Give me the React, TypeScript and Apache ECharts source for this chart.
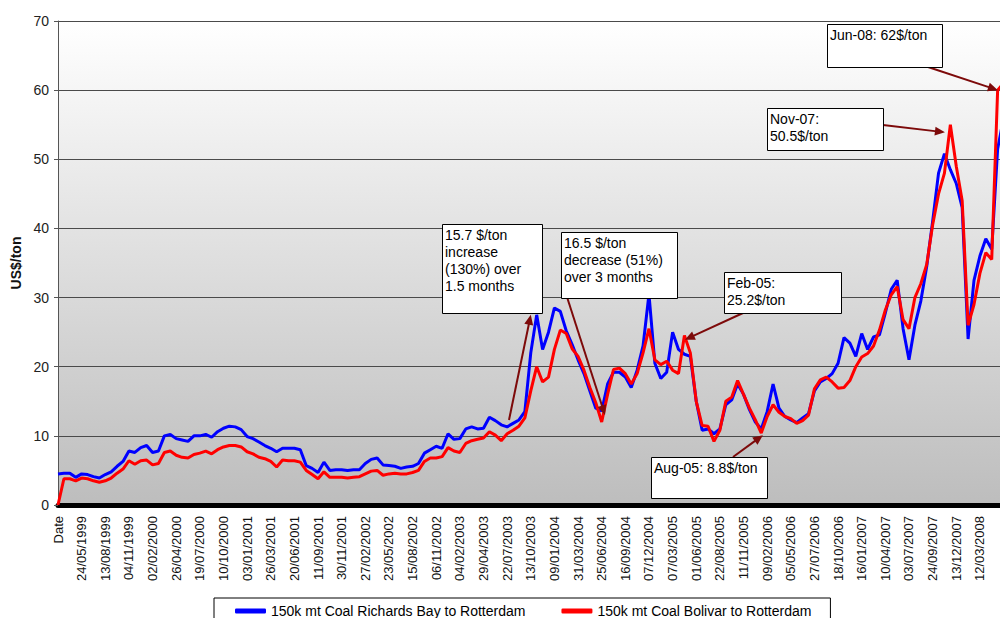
import React, { useEffect, useRef } from "react";
import * as echarts from "echarts";

const FONT = '"Liberation Sans", Arial, Helvetica, sans-serif';

// Category labels shown along the date axis (one every 60 trading days)
const tickLabels = [
  "Date", "24/05/1999", "13/08/1999", "04/11/1999", "02/02/2000", "26/04/2000",
  "19/07/2000", "10/10/2000", "03/01/2001", "26/03/2001", "20/06/2001",
  "11/09/2001", "30/11/2001", "27/02/2002", "23/05/2002", "15/08/2002",
  "06/11/2002", "04/02/2003", "29/04/2003", "22/07/2003", "13/10/2003",
  "09/01/2004", "31/03/2004", "25/06/2004", "16/09/2004", "07/12/2004",
  "07/03/2005", "01/06/2005", "22/08/2005", "11/11/2005", "09/02/2006",
  "05/05/2006", "27/07/2006", "18/10/2006", "16/01/2007", "10/04/2007",
  "03/07/2007", "24/09/2007", "13/12/2007", "12/03/2008",
];

// Freight samples per label step
const POINTS_PER_TICK = 4;
const X_MAX = 39.85;

// 150k mt Coal Richards Bay to Rotterdam, US$/ton
const richardsBayRotterdam = [
  4.5, 4.6, 4.6, 4.0, 4.5, 4.4, 4.1, 3.9, 4.4, 4.8,
  5.6, 6.3, 7.8, 7.6, 8.3, 8.6, 7.6, 7.8, 10.0, 10.2,
  9.6, 9.4, 9.2, 10.0, 10.0, 10.2, 9.8, 10.6, 11.1, 11.4,
  11.3, 10.9, 9.9, 9.6, 9.1, 8.6, 8.2, 7.7, 8.2, 8.2,
  8.2, 8.0, 5.7, 5.3, 4.7, 6.2, 5.0, 5.1, 5.1, 5.0,
  5.1, 5.1, 6.0, 6.6, 6.8, 5.8, 5.7, 5.6, 5.3, 5.5,
  5.6, 6.0, 7.5, 8.0, 8.5, 8.2, 10.3, 9.5, 9.6, 11.0,
  11.3, 11.0, 11.1, 12.7, 12.2, 11.6, 11.3, 11.8, 12.3, 13.5,
  22.0, 27.5, 22.5, 25.0, 28.5, 28.0, 25.2, 23.2, 21.0, 19.0,
  16.5, 14.0, 13.6, 17.5, 19.2, 19.2, 18.5, 17.0, 19.5, 23.0,
  30.5, 20.5, 18.3, 19.2, 25.0, 22.5, 21.8, 21.5, 15.0, 10.8,
  11.0, 10.3, 11.0, 14.5, 15.2, 17.5, 16.0, 13.8, 12.0, 11.0,
  13.5, 17.5, 14.0, 12.8, 12.3, 11.9, 12.6, 13.2, 16.5, 17.8,
  18.3, 19.0, 20.5, 24.2, 23.4, 21.5, 24.8, 22.5, 24.3, 24.6,
  27.8, 31.2, 32.5, 25.5, 21.0, 26.0, 29.5, 34.5, 41.0, 48.0,
  50.8, 48.5, 46.5, 43.0, 24.0, 32.5, 36.0, 38.5, 37.0, 51.5,
  56.0,
];

// 150k mt Coal Bolivar to Rotterdam, US$/ton
const bolivarRotterdam = [
  0, 3.8, 3.8, 3.5, 3.9, 3.8, 3.5, 3.3, 3.5, 3.9,
  4.6, 5.2, 6.4, 5.9, 6.4, 6.5, 5.8, 6.0, 7.6, 7.8,
  7.2, 6.9, 6.8, 7.3, 7.5, 7.8, 7.4, 8.0, 8.4, 8.6,
  8.6, 8.4, 7.7, 7.4, 6.9, 6.7, 6.3, 5.5, 6.5, 6.4,
  6.4, 6.2, 5.0, 4.4, 3.8, 4.8, 4.0, 4.0, 4.0, 3.9,
  4.0, 4.1, 4.5, 4.9, 5.0, 4.3, 4.5, 4.6, 4.5, 4.5,
  4.7, 5.0, 6.3, 6.8, 6.8, 7.0, 8.3, 7.8, 7.6, 8.9,
  9.3, 9.5, 9.7, 10.6, 10.1, 9.3, 10.3, 10.8, 11.4, 12.6,
  16.5, 20.0, 17.8, 18.5, 22.5, 25.3, 24.8, 22.6, 21.5, 19.5,
  17.0, 14.8, 12.0, 16.0, 19.6, 19.8, 19.0, 17.5, 19.0, 22.0,
  25.5, 21.0, 20.3, 20.8, 19.5, 19.0, 24.5, 22.0, 15.0, 11.5,
  11.4, 9.2, 10.8, 15.0, 15.6, 18.0, 16.0, 14.0, 12.3, 10.4,
  12.8, 14.5, 13.4, 12.8, 12.5, 11.8, 12.2, 13.0, 16.8, 18.1,
  18.5, 17.8, 16.9, 17.0, 18.0, 20.0, 21.4, 21.9, 23.0, 25.3,
  28.2, 30.4, 31.6, 26.8, 25.5, 30.0, 32.0, 34.8, 40.5, 45.0,
  48.0, 55.0, 49.0, 44.0, 26.0, 29.0, 33.5, 36.5, 35.5, 60.0,
  61.0,
];

const seriesNames = [
  "150k mt Coal Richards Bay to Rotterdam",
  "150k mt Coal Bolivar to Rotterdam",
];
const seriesColors = ["#0000ff", "#ff0000"];

// Callout texts
const noteTexts = [
  ["15.7 $/ton", "increase", "(130%) over", "1.5 months"],
  ["16.5 $/ton", "decrease (51%)", "over 3 months"],
  ["Feb-05:", "25.2$/ton"],
  ["Aug-05: 8.8$/ton"],
  ["Nov-07:", "50.5$/ton"],
  ["Jun-08: 62$/ton"],
];

// Callout boxes [x, y, w, h] in pixels, arrow tail in pixels, arrow tip in [axis position, US$/ton]
const noteLayout = [
  { box: [442, 224, 100, 89], tail: [509, 420], tip: [20.0, 27.5] },
  { box: [561, 232, 116, 66], tail: [567, 297], tip: [23.14, 13.0] },
  { box: [724, 272, 117, 41], tail: [743, 313], tip: [26.52, 23.9] },
  { box: [651, 457, 116, 41], tail: [733, 457], tip: [29.82, 10.1] },
  { box: [767, 108, 116, 42], tail: [883, 125], tip: [37.52, 53.9] },
  { box: [827, 24, 115, 43], tail: [928, 67], tip: [39.76, 60.0] },
];

const ARROW_COLOR = "#7d0a0a";

function toPairs(values: number[]) {
  return values.map((v, i) => [i / POINTS_PER_TICK, v]);
}

function arrowElements(from: number[], tip: number[]) {
  const dx = tip[0] - from[0];
  const dy = tip[1] - from[1];
  const len = Math.hypot(dx, dy) || 1;
  const ux = dx / len;
  const uy = dy / len;
  const headLen = 10;
  const headHalf = 4.5;
  const bx = tip[0] - ux * headLen;
  const by = tip[1] - uy * headLen;
  return [
    {
      type: "line",
      z: 100,
      shape: { x1: from[0], y1: from[1], x2: bx + ux * 2, y2: by + uy * 2 },
      style: { stroke: ARROW_COLOR, lineWidth: 2 },
    },
    {
      type: "polygon",
      z: 100,
      shape: {
        points: [
          [tip[0], tip[1]],
          [bx - uy * headHalf, by + ux * headHalf],
          [bx + uy * headHalf, by - ux * headHalf],
        ],
      },
      style: { fill: ARROW_COLOR },
    },
  ];
}

export default function App() {
  const ref = useRef<HTMLDivElement>(null);

  useEffect(() => {
    document.body.style.margin = "0";
    if (!ref.current) return;
    const chart = echarts.init(ref.current, null, { renderer: "svg" });

    chart.setOption({
      animation: false,
      backgroundColor: "#ffffff",
      textStyle: { fontFamily: FONT },
      grid: {
        left: 58,
        right: 0,
        top: 21,
        bottom: 113,
        show: true,
        borderWidth: 0,
        backgroundColor: new echarts.graphic.LinearGradient(0, 0, 0, 1, [
          { offset: 0, color: "#ffffff" },
          { offset: 1, color: "#bdbdbd" },
        ]),
      },
      legend: {
        data: seriesNames,
        left: 214,
        top: 598,
        icon: "roundRect",
        itemWidth: 31,
        itemHeight: 5,
        itemGap: 36,
        padding: [6, 19, 16, 21],
        borderColor: "#000000",
        borderWidth: 1,
        backgroundColor: "#ffffff",
        textStyle: { fontSize: 14, color: "#000000", fontFamily: FONT },
      },
      xAxis: {
        type: "value",
        min: 0,
        max: X_MAX,
        interval: 1,
        offset: 3,
        axisLine: { show: true, lineStyle: { color: "#000000", width: 5 } },
        axisTick: { show: false },
        splitLine: { show: false },
        axisLabel: {
          rotate: 90,
          margin: 8,
          fontSize: 13,
          color: "#111111",
          fontFamily: FONT,
          showMaxLabel: false,
          formatter: (v: number) => {
            const r = Math.round(v);
            return Math.abs(v - r) < 1e-6 && tickLabels[r] ? tickLabels[r] : "";
          },
        },
      },
      yAxis: {
        type: "value",
        min: 0,
        max: 70,
        interval: 10,
        name: "US$/ton",
        nameLocation: "middle",
        nameGap: 32,
        nameTextStyle: { fontWeight: "bold", fontSize: 14, color: "#111111", fontFamily: FONT },
        axisLine: { show: true, lineStyle: { color: "#555555", width: 1 } },
        axisTick: { show: true, length: 4, lineStyle: { color: "#555555" } },
        axisLabel: { fontSize: 14, color: "#222222", margin: 9, fontFamily: FONT },
        splitLine: { show: true, lineStyle: { color: "#4a4a4a", width: 1 } },
      },
      series: [
        {
          name: seriesNames[0],
          type: "line",
          data: toPairs(richardsBayRotterdam),
          showSymbol: false,
          symbol: "none",
          color: seriesColors[0],
          lineStyle: { width: 3, color: seriesColors[0] },
          z: 2,
        },
        {
          name: seriesNames[1],
          type: "line",
          data: toPairs(bolivarRotterdam),
          showSymbol: false,
          symbol: "none",
          color: seriesColors[1],
          lineStyle: { width: 3, color: seriesColors[1] },
          z: 3,
        },
      ],
    });

    const graphics: any[] = [];
    noteLayout.forEach((note, i) => {
      const tipPx = chart.convertToPixel({ gridIndex: 0 }, note.tip) as number[];
      graphics.push(...arrowElements(note.tail, tipPx));
      const [bx, by, bw, bh] = note.box;
      graphics.push({
        type: "rect",
        z: 101,
        shape: { x: bx + 0.5, y: by + 0.5, width: bw, height: bh },
        style: { fill: "#ffffff", stroke: "#000000", lineWidth: 1 },
      });
      graphics.push({
        type: "text",
        z: 102,
        x: bx + 3,
        y: by + 2,
        style: {
          text: noteTexts[i].join("\n"),
          font: `14px ${FONT}`,
          fill: "#000000",
          lineHeight: 17,
          verticalAlign: "top",
          align: "left",
        },
      });
    });
    chart.setOption({ graphic: graphics });

    return () => chart.dispose();
  }, []);

  return <div ref={ref} style={{ width: 1000, height: 618 }} />;
}
